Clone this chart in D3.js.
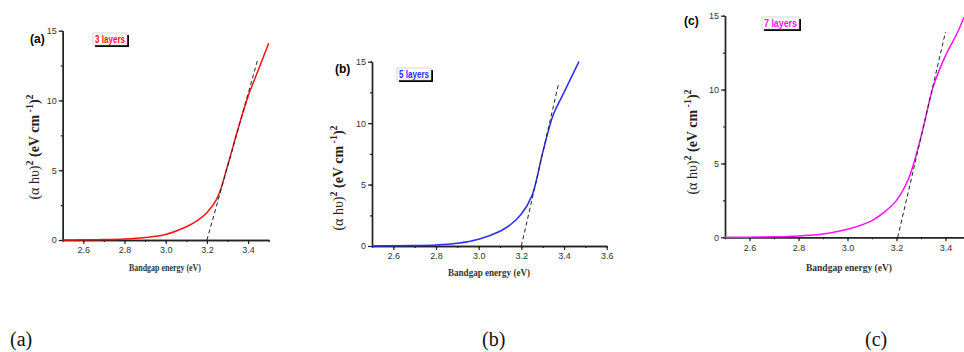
<!DOCTYPE html>
<html>
<head>
<meta charset="utf-8">
<script src="https://cdn.jsdelivr.net/npm/d3@7"></script>
<style>
  html, body { margin: 0; padding: 0; background: #fff; }
  svg { display: block; }
</style>
</head>
<body>
<svg id="chart" width="964" height="352"></svg>
<script>
// energies (eV) and (alpha h nu)^2
const energyA = [2.5, 2.6, 2.7, 2.8, 2.9, 3.0, 3.1, 3.15, 3.2, 3.25, 3.3, 3.35, 3.4, 3.45, 3.5];
const valuesA = [0, 0.01, 0.03, 0.07, 0.18, 0.4, 0.95, 1.35, 1.95, 3.0, 5.3, 7.9, 10.3, 12.2, 14.1];
const fitA = [[3.2, 0], [3.446, 12.9]];

const energyB = [2.5, 2.6, 2.7, 2.8, 2.9, 3.0, 3.1, 3.15, 3.2, 3.25, 3.3, 3.35, 3.4, 3.45, 3.47];
const valuesB = [0, 0.02, 0.04, 0.08, 0.22, 0.55, 1.2, 1.75, 2.6, 4.1, 7.6, 10.7, 12.5, 14.3, 15.0];
const fitB = [[3.2, 0], [3.373, 13.1]];

const energyC = [2.5, 2.6, 2.7, 2.8, 2.9, 3.0, 3.1, 3.15, 3.2, 3.25, 3.3, 3.35, 3.4, 3.45, 3.475];
const valuesC = [0, 0.01, 0.03, 0.09, 0.22, 0.54, 1.13, 1.7, 2.5, 4.0, 6.8, 10.2, 12.3, 13.9, 14.9];
const fitC = [[3.205, 0], [3.4, 13.9]];

const panelTags = ['(a)', '(b)', '(c)'];
const legendTexts = ['3 layers', '5 layers', '7 layers'];
const xTickLabels = [['2.6', '2.8', '3.0', '3.2', '3.4'], ['2.6', '2.8', '3.0', '3.2', '3.4', '3.6'], ['2.6', '2.8', '3.0', '3.2', '3.4']];
const yTickLabels = ['0', '5', '10', '15'];
const captions = ['(a)', '(b)', '(c)'];

const panels = [
    { x: energyA, y: valuesA, fit: fitA, xMax: 3.5, color: '#ff1010',
      left: 62.7, right: 268.7, top: 30.7, bottom: 240, tag: [30, 43], leg: [93, 33, 34],
      yl: [39, 147], xl: [165, 271, 72] },
    { x: energyB, y: valuesB, fit: fitB, xMax: 3.6, color: '#2a2aff',
      left: 372, right: 606.7, top: 61.7, bottom: 246, tag: [335, 73], leg: [397, 68, 34],
      yl: [343, 178], xl: [489, 276, 82] },
    { x: energyC, y: valuesC, fit: fitC, xMax: 3.5, color: '#ff10ff',
      left: 725, right: 970, top: 15.7, bottom: 237.3, tag: [684, 25], leg: [762, 17, 37],
      yl: [697, 142], xl: [849, 271, 86] },
];

const svg = d3.select('#chart');
const sans = "'Liberation Sans', Arial, sans-serif";
const serif = "'Liberation Serif', 'Times New Roman', serif";

panels.forEach((p, i) => {
    const xScale = d3.scaleLinear().domain([2.5, p.xMax]).range([p.left, p.right]);
    const yScale = d3.scaleLinear().domain([0, 15]).range([p.bottom, p.top]);
    const g = svg.append('g');

    // minor ticks
    const xMinor = d3.range(2.5, p.xMax + 0.001, 0.1).map(v => +v.toFixed(2));
    const yMinor = d3.range(0, 15.01, 2.5);

    const xAxis = d3.axisBottom(xScale)
        .tickValues(xTickLabels[i].map(Number))
        .tickFormat(d3.format('.1f'))
        .tickSizeInner(4).tickSizeOuter(0).tickPadding(3);
    const xAxisMinor = d3.axisBottom(xScale).tickValues(xMinor).tickFormat('').tickSizeInner(2).tickSizeOuter(0);
    const yAxis = d3.axisLeft(yScale)
        .tickValues(yTickLabels.map(Number))
        .tickSizeInner(4).tickSizeOuter(0).tickPadding(2);
    const yAxisMinor = d3.axisLeft(yScale).tickValues(yMinor).tickFormat('').tickSizeInner(2).tickSizeOuter(0);

    [xAxisMinor, xAxis].forEach(ax => {
        g.append('g').attr('transform', `translate(0,${p.bottom})`).call(ax);
    });
    [yAxisMinor, yAxis].forEach(ax => {
        g.append('g').attr('transform', `translate(${p.left},0)`).call(ax);
    });
    g.selectAll('.domain').attr('stroke', '#222').attr('stroke-width', 1.4);
    g.selectAll('.tick line').attr('stroke', '#222').attr('stroke-width', 1.2);
    g.selectAll('.tick text').attr('font-family', sans).attr('font-size', 9).attr('fill', '#333');

    // curve
    const pts = p.x.map((v, k) => [v, p.y[k]]);
    g.append('path')
        .datum(pts)
        .attr('fill', 'none')
        .attr('stroke', p.color)
        .attr('stroke-width', 1.5)
        .attr('d', d3.line().x(d => xScale(d[0])).y(d => yScale(d[1])).curve(d3.curveCatmullRom.alpha(0.5)));

    // linear fit (Tauc extrapolation)
    g.append('line')
        .attr('x1', xScale(p.fit[0][0])).attr('y1', yScale(p.fit[0][1]))
        .attr('x2', xScale(p.fit[1][0])).attr('y2', yScale(p.fit[1][1]))
        .attr('stroke', '#222').attr('stroke-width', 1).attr('stroke-dasharray', '4,3');

    // panel tag
    g.append('text').attr('x', p.tag[0]).attr('y', p.tag[1])
        .attr('font-family', sans).attr('font-weight', 'bold').attr('font-size', 12)
        .text(panelTags[i]);

    // legend box with shadow
    const [lx, ly, lw] = p.leg;
    g.append('rect').attr('x', lx + 2).attr('y', ly + 2).attr('width', lw).attr('height', 12).attr('fill', '#000');
    g.append('rect').attr('x', lx).attr('y', ly).attr('width', lw).attr('height', 12)
        .attr('fill', '#fff').attr('stroke', '#bbb').attr('stroke-width', 0.6);
    g.append('text').attr('x', lx + 2).attr('y', ly + 9.8)
        .attr('font-family', sans).attr('font-weight', 'bold').attr('font-size', 11)
        .attr('textLength', lw - 4).attr('lengthAdjust', 'spacingAndGlyphs')
        .attr('fill', p.color)
        .text(legendTexts[i]);

    // y label
    const yl = g.append('text')
        .attr('transform', `translate(${p.yl[0]},${p.yl[1]}) rotate(-90)`)
        .attr('text-anchor', 'middle')
        .attr('font-family', serif).attr('font-size', 14).attr('fill', '#222');
    yl.append('tspan').text('(α hυ)');
    yl.append('tspan').attr('dy', -6).attr('font-size', 10).attr('font-weight', 'bold').text('2');
    yl.append('tspan').attr('dy', 6).attr('font-weight', 'bold').text(' (eV cm');
    yl.append('tspan').attr('dy', -6).attr('font-size', 10).attr('font-weight', 'bold').text(' -1');
    yl.append('tspan').attr('dy', 6).attr('font-weight', 'bold').text(')');
    yl.append('tspan').attr('dy', -6).attr('font-size', 10).attr('font-weight', 'bold').text('2');

    // x label
    g.append('text').attr('x', p.xl[0]).attr('y', p.xl[1])
        .attr('text-anchor', 'middle')
        .attr('font-family', serif).attr('font-weight', 'bold').attr('font-size', 11).attr('fill', '#333')
        .attr('textLength', p.xl[2]).attr('lengthAdjust', 'spacingAndGlyphs')
        .text('Bandgap energy (eV)');
});

// captions under the panels
const capX = [10, 482, 865];
svg.selectAll('.caption')
    .data(captions)
    .enter()
    .append('text')
    .attr('class', 'caption')
    .attr('x', (d, i) => capX[i])
    .attr('y', 346)
    .attr('font-family', serif).attr('font-size', 20).attr('fill', '#111')
    .text(d => d);
</script>
</body>
</html>
